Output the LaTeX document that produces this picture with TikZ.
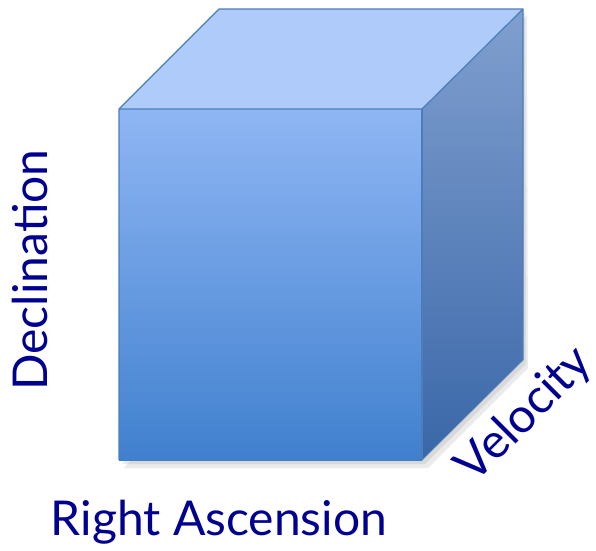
\documentclass[tikz,border=0pt]{standalone}
\usepackage{fontspec}
\setmainfont{Lato}
\usepackage{tikz}
\usetikzlibrary{arrows.meta}

\definecolor{topface}{HTML}{AECBFA}
\definecolor{fronttop}{HTML}{8FB6F4}
\definecolor{frontbot}{HTML}{4080CE}
\definecolor{sidetop}{HTML}{809FCF}
\definecolor{sidebot}{HTML}{3A67A8}
\definecolor{edgeblue}{HTML}{4A7EBB}
\definecolor{axistext}{HTML}{000090}

\tikzset{
  edge/.style={draw=edgeblue,line width=1.2pt,line join=round},
  axislabel/.style={text=axistext,font=\fontsize{48}{48}\selectfont,inner sep=0pt}
}

\begin{document}
\begin{tikzpicture}[x=1pt,y=-1pt,>=Stealth]
            \useasboundingbox (0,0) rectangle (596,550);
            % corners of the cube
            \coordinate (FTL) at (119,109);
            \coordinate (FTR) at (422,109);
            \coordinate (FBL) at (119,460);
            \coordinate (FBR) at (422,460);
            \coordinate (BTL) at (219,9);
            \coordinate (BTR) at (523,9);
            \coordinate (BBR) at (523,360);
            % shadow
            \fill [black,opacity=0.08] (124,116) -- (BTR) ++(4,6) -- (528,368) -- (428,468) -- (124,468) -- cycle;
            \fill [black,opacity=0.08] (122,113) -- (BTR) ++(2,3) -- (526,364) -- (425,464) -- (122,464) -- cycle;
            % faces
            \shade [top color=fronttop,bottom color=frontbot] (FTL) rectangle (FBR);
            \shade [top color=sidetop,bottom color=sidebot] (FTR) -- (BTR) -- (BBR) -- (FBR) -- cycle;
            \fill [topface] (FTL) -- (BTL) -- (BTR) -- (FTR) -- cycle;
            % edges
            \draw [edge] (FBL) -- (FTL) -- (BTL) -- (BTR) -- (BBR);
            \draw [edge] (FTL) -- (FTR) -- (BTR);
            \draw [edge] (FTR) -- (FBR);
            \draw [edge,draw opacity=0.5] (FBL) -- (FBR) -- (BBR);
            % axis labels
            \node [axislabel,rotate=90] (dec) at (30,270) {Declination};
            \node [axislabel] (ra) at (219,522) {Right Ascension};
            \node [axislabel,rotate=45] (vel) at (525,415) {Velocity};
        \end{tikzpicture}
\end{document}
